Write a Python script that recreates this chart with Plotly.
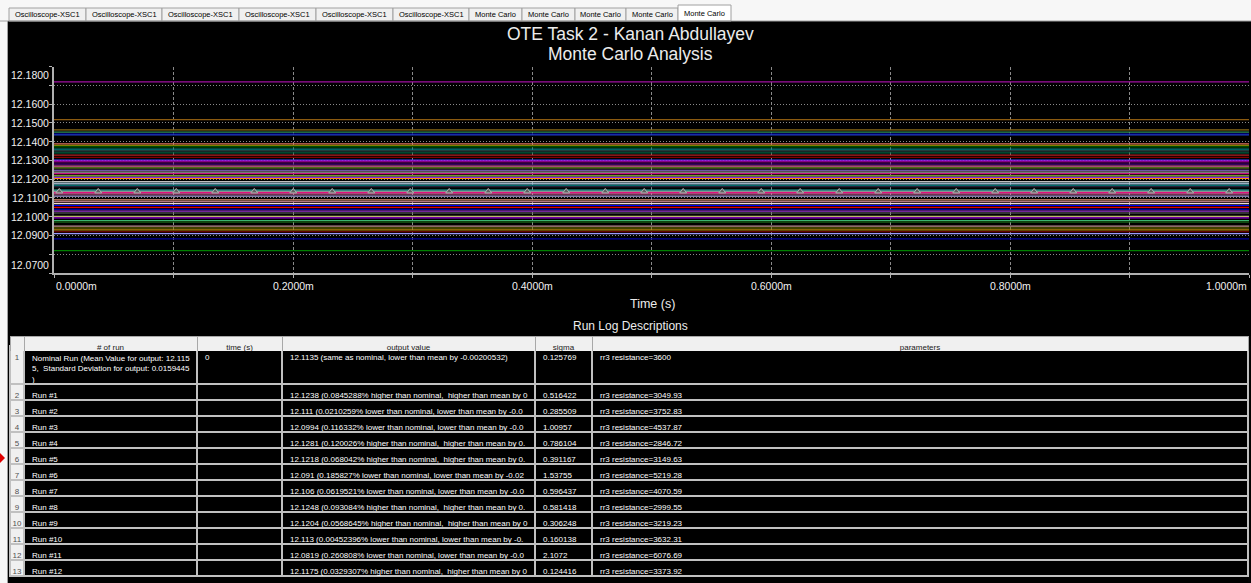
import plotly.graph_objects as go

W, H = 1251, 583

# ---------------- data ----------------
# Monte Carlo output levels (V), with their trace colours
run_levels = [
    12.1719, 12.1518, 12.1463, 12.1451, 12.1442, 12.1436, 12.1389, 12.1380,
    12.1372, 12.1361, 12.1351, 12.1340, 12.1329, 12.1316, 12.1302, 12.1297,
    12.1293, 12.1281, 12.1270, 12.1260, 12.1248, 12.1238, 12.1230, 12.1218,
    12.1210, 12.1204, 12.1188, 12.1180, 12.1175, 12.1168, 12.1160, 12.1142,
    12.1130, 12.1122, 12.1110, 12.1090, 12.1080, 12.1070, 12.1060, 12.1050,
    12.1040, 12.1030, 12.1020, 12.1002, 12.0994, 12.0980, 12.0972, 12.0950,
    12.0940, 12.0930, 12.0920, 12.0910, 12.0882, 12.0819,
]
run_colors = [
    "#a010a0", "#8b5a10", "#8b6914", "#2e8b57", "#000080", "#1e3cc8", "#e07060", "#808000",
    "#006400", "#008080", "#2f4f4f", "#006040", "#b22222", "#800000", "#4040ff", "#d000d0",
    "#800080", "#4b0082", "#e060a0", "#6b8e23", "#9370db", "#a0a0a0", "#c71585", "#9acd32",
    "#8a2be2", "#ff8c00", "#c0c0c0", "#add8e6", "#b0c4de", "#008b8b", "#303050", "#20b2aa",
    "#e01080", "#e060a0", "#b0a0e0", "#e9967a", "#f0a0b0", "#f0d8d8", "#0000ff", "#e00000",
    "#0000cd", "#9932cc", "#696969", "#bdb76b", "#9400d3", "#3cb371", "#228b22", "#bc8f8f",
    "#808000", "#b8860b", "#800000", "#9999ff", "#0000a0", "#008000",
]
nominal_value = 12.1135
nominal_marker_ms = [
    0.0044, 0.0370, 0.0697, 0.1023, 0.1349, 0.1676, 0.2002, 0.2328, 0.2655, 0.2981,
    0.3307, 0.3634, 0.3960, 0.4286, 0.4613, 0.4939, 0.5265, 0.5592, 0.5918, 0.6244,
    0.6571, 0.6897, 0.7223, 0.7550, 0.7876, 0.8202, 0.8529, 0.8855, 0.9181, 0.9508, 0.9834,
]
time_span_ms = [0.0, 1.0]

x_ticks_ms = [0.0, 0.1, 0.2, 0.3, 0.4, 0.5, 0.6, 0.7, 0.8, 0.9, 1.0]
x_tick_labels = ["0.0000m", "", "0.2000m", "", "0.4000m", "", "0.6000m", "", "0.8000m", "", "1.0000m"]
y_ticks = [12.07, 12.08, 12.09, 12.10, 12.11, 12.12, 12.13, 12.14, 12.15, 12.16, 12.17, 12.18]
y_tick_labels = ["12.0700", "", "12.0900", "12.1000", "12.1100", "12.1200", "12.1300",
                 "12.1400", "12.1500", "12.1600", "", "12.1800"]

tab_names = ["Oscilloscope-XSC1"] * 6 + ["Monte Carlo"] * 5

row_numbers = [str(i) for i in range(1, 14)]
run_names = [
    "Nominal Run (Mean Value for output: 12.115<br>5,  Standard Deviation for output: 0.0159445<br>)",
    "Run #1", "Run #2", "Run #3", "Run #4", "Run #5", "Run #6",
    "Run #7", "Run #8", "Run #9", "Run #10", "Run #11", "Run #12",
]
run_times = ["0"] + [""] * 12
output_values = [
    "12.1135 (same as nominal, lower than mean by -0.00200532)",
    "12.1238 (0.0845288% higher than nominal,  higher than mean by 0",
    "12.111 (0.0210259% lower than nominal, lower than mean by -0.0",
    "12.0994 (0.116332% lower than nominal, lower than mean by -0.0",
    "12.1281 (0.120026% higher than nominal,  higher than mean by 0.",
    "12.1218 (0.068042% higher than nominal,  higher than mean by 0.",
    "12.091 (0.185827% lower than nominal, lower than mean by -0.02",
    "12.106 (0.0619521% lower than nominal, lower than mean by -0.0",
    "12.1248 (0.093084% higher than nominal,  higher than mean by 0.",
    "12.1204 (0.0568645% higher than nominal,  higher than mean by 0",
    "12.113 (0.00452396% lower than nominal, lower than mean by -0.",
    "12.0819 (0.260808% lower than nominal, lower than mean by -0.0",
    "12.1175 (0.0329307% higher than nominal,  higher than mean by 0",
]
sigmas = ["0.125769", "0.516422", "0.285509", "1.00957", "0.786104", "0.391167", "1.53755",
          "0.596437", "0.581418", "0.306248", "0.160138", "2.1072", "0.124416"]
parameters = ["rr3 resistance=3600", "rr3 resistance=3049.93", "rr3 resistance=3752.83",
              "rr3 resistance=4537.87", "rr3 resistance=2846.72", "rr3 resistance=3149.63",
              "rr3 resistance=5219.28", "rr3 resistance=4070.59", "rr3 resistance=2999.55",
              "rr3 resistance=3219.23", "rr3 resistance=3632.31", "rr3 resistance=6076.69",
              "rr3 resistance=3373.92"]
table_headers = ["", "# of run", "time (s)", "output value", "sigma", "parameters"]

# ---------------- layout helpers (pixel -> paper) ----------------
def px(x):
    return x / W

def py(y):
    return 1 - y / H

FONT = "Liberation Sans, Arial, sans-serif"
NB = "\u00a0"
COLW = [14, 173, 85, 253, 57, 656]
TABLE_X = [px(10), px(1248)]

def nb(s):
    return s.replace(" ", NB)

fig = go.Figure()

for lvl, col in zip(run_levels, run_colors):
    fig.add_trace(go.Scatter(x=time_span_ms, y=[lvl, lvl], mode="lines",
                             line=dict(color=col, width=1.2), hoverinfo="skip"))

fig.add_trace(go.Scatter(x=time_span_ms, y=[nominal_value, nominal_value], mode="lines",
                         line=dict(color="#909090", width=1.2), hoverinfo="skip"))
fig.add_trace(go.Scatter(x=nominal_marker_ms, y=[nominal_value] * len(nominal_marker_ms),
                         mode="markers",
                         marker=dict(symbol="triangle-up", size=6, color="#606060",
                                     line=dict(color="#b0b0b0", width=1)),
                         hoverinfo="skip"))

# ---- table: body rows built from the lists above ----
def body_columns(rows):
    return [[row_numbers[i] for i in rows],
            [nb(run_names[i]) for i in rows],
            [run_times[i] for i in rows],
            [nb(output_values[i]) for i in rows],
            [sigmas[i] for i in rows],
            [nb(parameters[i]) for i in rows]]

hidden_header = dict(values=[""] * 6, height=0, fill_color="rgba(0,0,0,0)",
                     line=dict(width=0, color="rgba(0,0,0,0)"))
cell_style = dict(fill_color=["#f0f0f0", "black", "black", "black", "black", "black"],
                  align=["center", "left", "left", "left", "left", "left"],
                  font=dict(family=FONT, size=8,
                            color=["#505050", "white", "white", "white", "white", "white"]),
                  line=dict(color="#c0c0c0", width=1.5))

# nominal run (taller, three-line row)
fig.add_trace(go.Table(domain=dict(x=TABLE_X, y=[py(384), py(346)]), columnwidth=COLW,
                       header=hidden_header,
                       cells=dict(values=body_columns([0]), height=38, **cell_style)))
# column headers
fig.add_trace(go.Table(domain=dict(x=TABLE_X, y=[py(352), py(336)]), columnwidth=COLW,
                       header=dict(values=table_headers, fill_color="#f0f0f0", align="center",
                                   font=dict(family=FONT, size=8, color="#202020"),
                                   line=dict(color="#a8a8a8", width=1), height=16),
                       cells=dict(values=[[] for _ in table_headers])))
# remaining runs
fig.add_trace(go.Table(domain=dict(x=TABLE_X, y=[0, py(384)]), columnwidth=COLW,
                       header=hidden_header,
                       cells=dict(values=body_columns(list(range(1, 13))), height=16, **cell_style)))

shapes = []
# black panel and left border
shapes.append(dict(type="rect", xref="paper", yref="paper", x0=px(8), x1=1, y0=0, y1=py(21),
                   fillcolor="black", line=dict(width=0), layer="below"))
shapes.append(dict(type="line", xref="paper", yref="paper", x0=px(7.5), x1=px(7.5), y0=0, y1=py(21),
                   line=dict(color="#a0a0a0", width=1), layer="below"))
# tab bar
tab_edges = [9, 86, 162, 239, 316, 393, 469, 522, 575, 626, 678, 731]
annotations = []
for i, name in enumerate(tab_names):
    x0, x1 = tab_edges[i], tab_edges[i + 1]
    active = i == len(tab_names) - 1
    shapes.append(dict(type="rect", xref="paper", yref="paper",
                       x0=px(x0), x1=px(x1), y0=py(21), y1=py(5 if active else 8),
                       fillcolor="#ffffff" if active else "#f0f0f0",
                       line=dict(color="#a0a0a0", width=1), layer="above"))
    annotations.append(dict(x=px((x0 + x1) / 2), y=py(13 if active else 14.5), xref="paper", yref="paper",
                            text=name, showarrow=False, xanchor="center", yanchor="middle",
                            font=dict(family=FONT, size=7.5, color="#000000")))
shapes.append(dict(type="line", xref="paper", yref="paper", x0=0, x1=1, y0=py(21), y1=py(21),
                   line=dict(color="#a0a0a0", width=1), layer="above"))
# small red marker at left edge
shapes.append(dict(type="path", xref="paper", yref="paper",
                   path=f"M {px(0)},{py(453)} L {px(5)},{py(458)} L {px(0)},{py(463)} Z",
                   fillcolor="#e00000", line=dict(width=0), layer="above"))

# titles
def label(x, y, text, size, xanchor="center"):
    return dict(x=x, y=y, xref="paper", yref="paper", text=text, showarrow=False,
                xanchor=xanchor, yanchor="middle", font=dict(family=FONT, size=size, color="#ececec"))

annotations.append(label(px(630), py(34), "OTE Task 2 - Kanan Abdullayev", 17.5))
annotations.append(label(px(630), py(54), "Monte Carlo Analysis", 17.5))
annotations.append(label(px(652), py(304), "Time (s)", 12.5))
annotations.append(label(px(630), py(326), "Run Log Descriptions", 12))

# tick labels
for i, (v, lab) in enumerate(zip(x_ticks_ms, x_tick_labels)):
    if not lab:
        continue
    anchor = "left" if i == 0 else ("right" if i == len(x_ticks_ms) - 1 else "center")
    annotations.append(dict(x=v, y=py(286), xref="x", yref="paper", text=lab, showarrow=False,
                            xanchor=anchor, yanchor="middle",
                            font=dict(family=FONT, size=10.5, color="#f0f0f0")))
for i, (v, lab) in enumerate(zip(y_ticks, y_tick_labels)):
    if not lab:
        continue
    anchor = "bottom" if i == 0 else ("top" if i == len(y_ticks) - 1 else "middle")
    annotations.append(dict(x=px(51), y=v, xref="paper", yref="y", text=lab, showarrow=False,
                            xanchor="right", yanchor=anchor,
                            font=dict(family=FONT, size=10.5, color="#f0f0f0")))

fig.update_layout(
    width=W, height=H, margin=dict(l=0, r=0, t=0, b=0),
    paper_bgcolor="#f7f7f7", plot_bgcolor="black", showlegend=False,
    xaxis=dict(domain=[px(54), px(1249)], range=[0, 1], tickvals=x_ticks_ms,
               showticklabels=False, showgrid=True, gridcolor="#8a8a8a", gridwidth=1,
               griddash="3px,2px", showline=True, linecolor="#b0b0b0", linewidth=1.5,
               ticks="outside", ticklen=3, tickcolor="#b0b0b0", zeroline=False, fixedrange=True),
    yaxis=dict(domain=[py(273), py(66.7)], range=[12.07, 12.18], tickvals=y_ticks,
               showticklabels=False, showgrid=True, gridcolor="#8a8a8a", gridwidth=1,
               griddash="1px,2px", showline=True, linecolor="#b0b0b0", linewidth=1.5,
               ticks="outside", ticklen=3, tickcolor="#b0b0b0", zeroline=False, fixedrange=True),
    shapes=shapes, annotations=annotations,
)

fig.write_html("out.html", config={"displayModeBar": False},
               post_script="document.body.style.margin='0';document.body.style.overflow='hidden';")
